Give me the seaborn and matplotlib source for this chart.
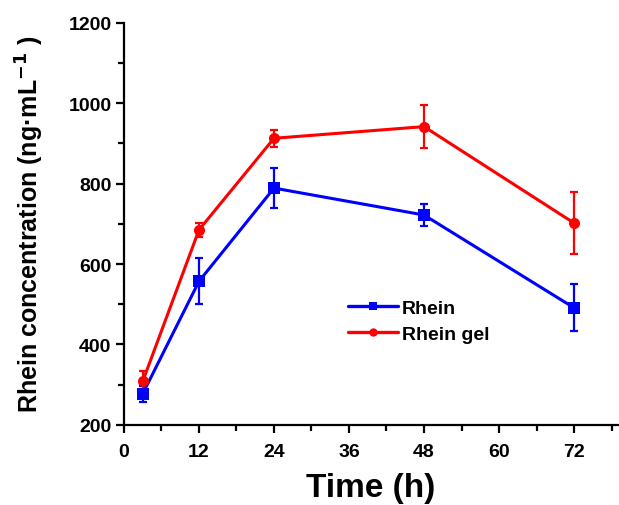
import matplotlib
matplotlib.use("Agg")
import matplotlib.pyplot as plt
import seaborn as sns
import pandas as pd
from matplotlib.ticker import MultipleLocator

time_h = [3, 12, 24, 48, 72]
rhein = [277, 557, 789, 722, 491]
rhein_err = [20, 57, 50, 27, 58]
rhein_gel = [308, 685, 913, 942, 702]
rhein_gel_err = [25, 17, 21, 54, 77]
series_names = ["Rhein", "Rhein gel"]
colors = ["#0000FF", "#FF0000"]
markers = ["s", "o"]

sns.set_theme(style="ticks")
plt.rcParams["font.family"] = ["Liberation Sans", "DejaVu Sans"]
plt.rcParams["font.weight"] = "bold"
plt.rcParams["text.color"] = "black"
plt.rcParams["axes.labelcolor"] = "black"

df = pd.DataFrame({
    "Time": time_h * 2,
    "Conc": rhein + rhein_gel,
    "Series": [series_names[0]] * len(time_h) + [series_names[1]] * len(time_h),
})

fig = plt.figure(figsize=(6.19, 5.06), dpi=100)
ax = fig.add_axes([0.2003, 0.1587, 0.7977, 0.7939])

for vals, errs, c in [(rhein, rhein_err, colors[0]), (rhein_gel, rhein_gel_err, colors[1])]:
    ax.errorbar(time_h, vals, yerr=errs, fmt="none", ecolor=c, elinewidth=1.6,
                capsize=3, capthick=1.6, zorder=2)

sns.lineplot(data=df, x="Time", y="Conc", hue="Series", style="Series",
             palette=dict(zip(series_names, colors)),
             markers=dict(zip(series_names, markers)), dashes=False,
             linewidth=2.2, markersize=8, markeredgewidth=0, ax=ax, zorder=3)

ax.set_xlim(0, 79)
ax.set_ylim(200, 1200)
ax.xaxis.set_major_locator(MultipleLocator(12))
ax.xaxis.set_minor_locator(MultipleLocator(6))
ax.yaxis.set_major_locator(MultipleLocator(200))
ax.yaxis.set_minor_locator(MultipleLocator(100))
sns.despine(ax=ax)
for s in ["left", "bottom"]:
    ax.spines[s].set_linewidth(1.6)
    ax.spines[s].set_color("black")
ax.tick_params(which="major", direction="out", length=6, width=1.6, labelsize=14,
               colors="black", pad=3)
ax.tick_params(axis="x", which="major", pad=7)
ax.tick_params(which="minor", direction="out", length=4, width=1.6, colors="black")
for lab in ax.get_xticklabels() + ax.get_yticklabels():
    lab.set_fontweight("bold")

ax.set_xlabel("Time (h)", fontsize=24, fontweight="bold", labelpad=9, color="black")
ax.set_ylabel("Rhein concentration (ng·mL$^{\\mathbf{-1}}$ )", fontsize=18,
              fontweight="bold", labelpad=16, color="black")

leg = ax.legend(loc="upper left", bbox_to_anchor=(0.453, 0.313), frameon=False,
                borderaxespad=0, borderpad=0, handlelength=2.6, labelspacing=0.45,
                handletextpad=0.2, prop={"weight": "bold", "size": 14})
for t in leg.get_texts():
    t.set_color("black")
for h in leg.get_lines():
    h.set_markersize(6)
    h.set_linewidth(2.4)

fig.savefig("out.png", dpi=100)
